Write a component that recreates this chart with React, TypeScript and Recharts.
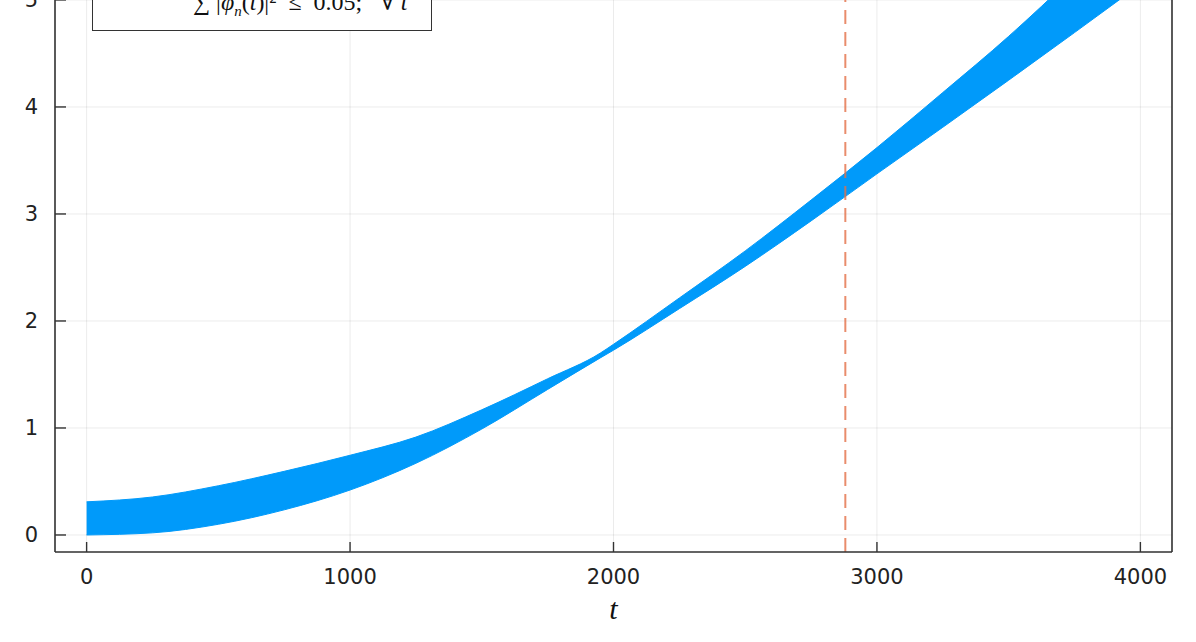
import React from "react"
import { ComposedChart, Area, XAxis, YAxis, CartesianGrid, ReferenceLine, Label } from "recharts"

// envelope of the fast-oscillating curve
const tValues = [0, 250, 500, 750, 1000, 1250, 1500, 1750, 1950, 2000, 2250, 2500, 2750, 3000, 3250, 3500, 3750, 4000]
const lowerEnvelope = [0.0, 0.02, 0.1, 0.235, 0.42, 0.67, 0.99, 1.36, 1.655, 1.727, 2.115, 2.51, 2.935, 3.375, 3.81, 4.25, 4.695, 5.145]
const upperEnvelope = [0.31, 0.355, 0.46, 0.595, 0.745, 0.915, 1.17, 1.46, 1.7, 1.782, 2.215, 2.655, 3.13, 3.62, 4.135, 4.66, 5.235, 5.865]

const xTicks = [0, 1000, 2000, 3000, 4000]
const yTicks = [0, 1, 2, 3, 4, 5]
const thresholdT = 2880

const data = tValues.map((t, i) => ({ t, band: [lowerEnvelope[i], upperEnvelope[i]] }))

const W = 1196
const H = 722
const PLOT_LEFT = 55
const PLOT_TOP = 12
const RIGHT_GAP = 24
const BOTTOM_GAP = 90
const PLOT_BOTTOM = H - BOTTOM_GAP

const BLUE = "#009AFA"
const ORANGE = "#E36F47"
const FRAME = "#333"
const TICK_FONT = "'DejaVu Sans', sans-serif"
const MATH_FONT = "'Liberation Serif', 'DejaVu Serif', serif"

const YTick = ({ y, payload }: any) => (
  <g>
    <line x1={PLOT_LEFT} x2={PLOT_LEFT + 11} y1={y} y2={y} stroke={FRAME} strokeWidth={1.4} />
    <text x={PLOT_LEFT - 17} y={y} textAnchor="end" dominantBaseline="central" fontFamily={TICK_FONT} fontSize={21} fill="#222">
      {payload.value}
    </text>
  </g>
)

const XTick = ({ x, payload }: any) => (
  <g>
    <line x1={x} x2={x} y1={PLOT_BOTTOM} y2={PLOT_BOTTOM - 10} stroke={FRAME} strokeWidth={1.4} />
    <text x={x} y={PLOT_BOTTOM + 25} textAnchor="middle" dominantBaseline="central" fontFamily={TICK_FONT} fontSize={21} fill="#222">
      {payload.value}
    </text>
  </g>
)

const Phi = () => (
  <>
    |<i>φ</i>
    <sub style={{ fontSize: 15 }}>
      <i>n</i>
    </sub>
    (<i>t</i>)|²
  </>
)

const LegendBox = () => (
  <div
    style={{
      position: "absolute",
      left: 92,
      top: -60,
      width: 340,
      height: 91,
      boxSizing: "border-box",
      border: `1.4px solid ${FRAME}`,
      background: "#fff",
      padding: "3px 0 8px 0",
      fontFamily: MATH_FONT,
      fontSize: 24,
      color: "#111",
    }}
  >
    <div style={{ display: "flex", alignItems: "center", height: 40 }}>
      <svg width={100} height={10} style={{ flex: "none", marginTop: -20 }}>
        <line x1={10} x2={80} y1={5} y2={5} stroke={BLUE} strokeWidth={2} />
      </svg>
      <span>
        ∑ <Phi />
      </span>
    </div>
    <div style={{ display: "flex", alignItems: "center", height: 40 }}>
      <svg width={100} height={10} style={{ flex: "none", marginTop: -20 }}>
        <line x1={10} x2={80} y1={5} y2={5} stroke={ORANGE} strokeWidth={2} strokeDasharray="14 8" />
      </svg>
      <span style={{ whiteSpace: "pre" }}>
        ∑ <Phi />  ≤  0.05;   ∀ <i>t</i>
      </span>
    </div>
  </div>
)

export default function App() {
  return (
    <div style={{ position: "fixed", left: 0, top: 0, width: W, height: 642, overflow: "hidden", background: "#fff" }}>
      <div style={{ position: "absolute", left: 0, top: -80 }}>
        <ComposedChart width={W} height={H} data={data} margin={{ top: 0, right: 0, bottom: 0, left: 0 }}>
          <CartesianGrid stroke="#000" strokeOpacity={0.08} strokeWidth={1} />
          <Area
            type="monotone"
            dataKey="band"
            fill={BLUE}
            fillOpacity={1}
            stroke={BLUE}
            strokeWidth={1}
            dot={false}
            activeDot={false}
            isAnimationActive={false}
          />
          <ReferenceLine x={thresholdT} stroke={ORANGE} strokeOpacity={0.8} strokeWidth={2} strokeDasharray="14 8" />
          <XAxis
            type="number"
            dataKey="t"
            domain={[-120, 4120]}
            ticks={xTicks}
            allowDataOverflow
            height={BOTTOM_GAP}
            tick={<XTick />}
            tickLine={false}
            axisLine={{ stroke: FRAME, strokeWidth: 1.6 }}
          >
            <Label
              value="t"
              position="insideTop"
              offset={46}
              style={{ fontFamily: MATH_FONT, fontStyle: "italic", fontSize: 30, fill: "#111" }}
            />
          </XAxis>
          <XAxis
            xAxisId="top"
            orientation="top"
            type="number"
            domain={[-120, 4120]}
            height={PLOT_TOP}
            tick={false}
            tickLine={false}
            axisLine={{ stroke: FRAME, strokeWidth: 1.6 }}
          />
          <YAxis
            type="number"
            domain={[-0.159, 5.635]}
            ticks={yTicks}
            allowDataOverflow
            width={PLOT_LEFT}
            tick={<YTick />}
            tickLine={false}
            axisLine={{ stroke: FRAME, strokeWidth: 1.6 }}
          />
          <YAxis
            yAxisId="right"
            orientation="right"
            type="number"
            domain={[-0.159, 5.635]}
            width={RIGHT_GAP}
            tick={false}
            tickLine={false}
            axisLine={{ stroke: FRAME, strokeWidth: 1.6 }}
          />
        </ComposedChart>
      </div>
      <LegendBox />
    </div>
  )
}
